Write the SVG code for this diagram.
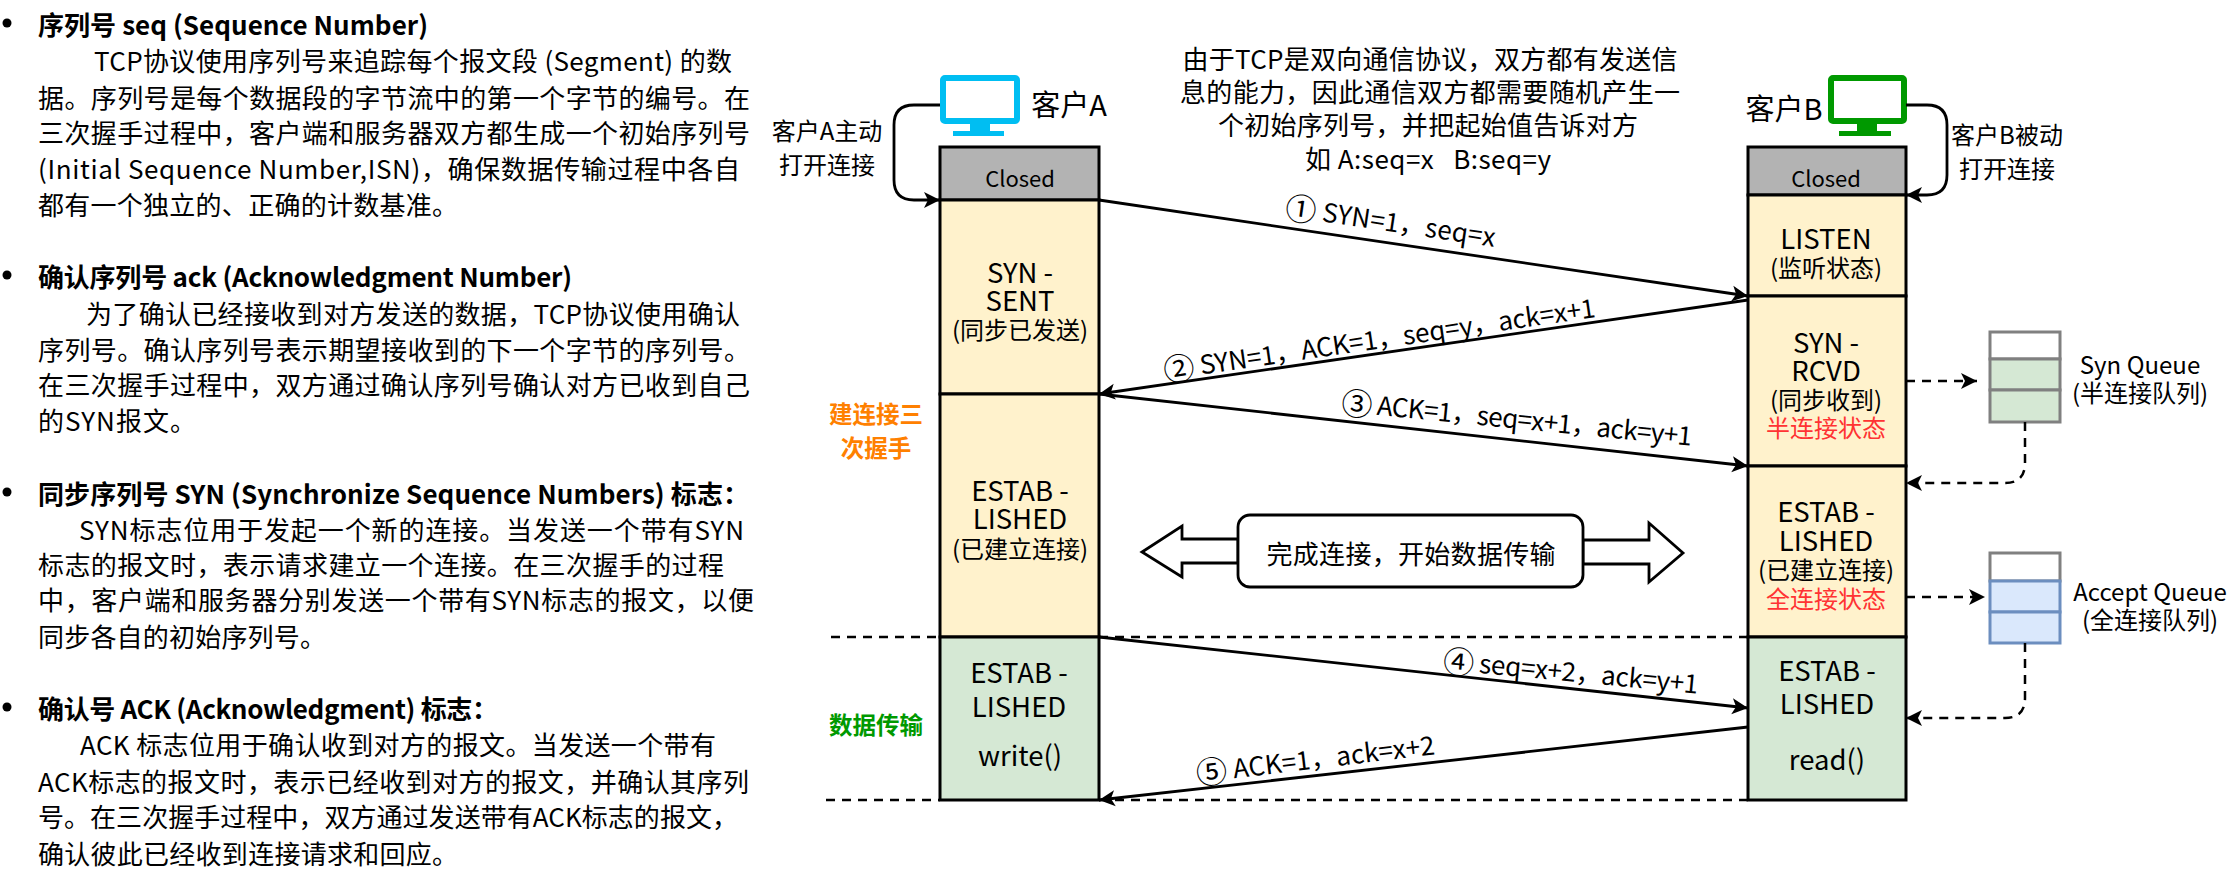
<svg xmlns="http://www.w3.org/2000/svg" width="2234" height="876" viewBox="0 0 2234 876">
<style>
text{font-family:"Noto Sans CJK SC","Noto Sans",sans-serif;fill:#000;dominant-baseline:central}
.l{font-size:26px}
.h{font-size:26px;font-weight:700}
.c{text-anchor:middle;font-size:24px}
.s{text-anchor:middle;font-size:22px}
.q{text-anchor:middle;font-size:24px}
.m{text-anchor:middle;font-size:27.5px}
.a{text-anchor:middle;font-size:26px}
.n{font-size:31px}
.t{text-anchor:middle;font-size:26px}
.o{fill:#ff8000;font-weight:700;text-anchor:middle;font-size:23.5px}
.g{fill:#009900;font-weight:700;text-anchor:middle;font-size:23.5px}
.r{fill:#ff3333}
.box{stroke:#000;stroke-width:3}
.cl{fill:#b3b3b3}.ye{fill:#fff2cc}.gr{fill:#d5e8d4}.bl{fill:#dae8fc}
.w{fill:#fff}
.qg{stroke:#808080;stroke-width:3}
.qb{stroke:#6c8ebf;stroke-width:3}
.ln{fill:none;stroke:#000;stroke-width:2.8}
.da{fill:none;stroke:#000;stroke-width:2.5;stroke-dasharray:9 7}
.blk{fill:#fff;stroke:#000;stroke-width:2.8}
</style>
<defs>
<marker id="arr" markerUnits="userSpaceOnUse" markerWidth="17" markerHeight="18" refX="16" refY="9" orient="auto"><path d="M0,1 L16,9 L0,17 L4,9Z" fill="#000"/></marker>
</defs>
<rect width="2234" height="876" fill="#fff"/>

<g id="left-text">
<circle cx="7" cy="23" r="4.5"/><circle cx="7" cy="275" r="4.5"/><circle cx="7" cy="492" r="4.5"/><circle cx="7" cy="707" r="4.5"/>
<text class="h" x="38" y="23" textLength="390">序列号 seq (Sequence Number)</text>
<text class="l" x="94" y="59" textLength="638">TCP协议使用序列号来追踪每个报文段 (Segment) 的数</text>
<text class="l" x="38" y="96" textLength="712">据。序列号是每个数据段的字节流中的第一个字节的编号。在</text>
<text class="l" x="38" y="131" textLength="712">三次握手过程中，客户端和服务器双方都生成一个初始序列号</text>
<text class="l" x="38" y="167" textLength="702">(Initial Sequence Number,ISN)，确保数据传输过程中各自</text>
<text class="l" x="38" y="203" textLength="420">都有一个独立的、正确的计数基准。</text>
<text class="h" x="38" y="275" textLength="534">确认序列号 ack (Acknowledgment Number)</text>
<text class="l" x="86" y="312" textLength="654">为了确认已经接收到对方发送的数据，TCP协议使用确认</text>
<text class="l" x="38" y="348" textLength="712">序列号。确认序列号表示期望接收到的下一个字节的序列号。</text>
<text class="l" x="38" y="383" textLength="712">在三次握手过程中，双方通过确认序列号确认对方已收到自己</text>
<text class="l" x="38" y="419" textLength="158">的SYN报文。</text>
<text class="h" x="38" y="492" textLength="711">同步序列号 SYN (Synchronize Sequence Numbers) 标志：</text>
<text class="l" x="79" y="528" textLength="665">SYN标志位用于发起一个新的连接。当发送一个带有SYN</text>
<text class="l" x="38" y="563" textLength="686">标志的报文时，表示请求建立一个连接。在三次握手的过程</text>
<text class="l" x="38" y="598" textLength="716">中，客户端和服务器分别发送一个带有SYN标志的报文，以便</text>
<text class="l" x="38" y="635" textLength="288">同步各自的初始序列号。</text>
<text class="h" x="38" y="707" textLength="460">确认号 ACK (Acknowledgment) 标志：</text>
<text class="l" x="80" y="743" textLength="636">ACK 标志位用于确认收到对方的报文。当发送一个带有</text>
<text class="l" x="38" y="780" textLength="711">ACK标志的报文时，表示已经收到对方的报文，并确认其序列</text>
<text class="l" x="38" y="815" textLength="700">号。在三次握手过程中，双方通过发送带有ACK标志的报文，</text>
<text class="l" x="38" y="852" textLength="420">确认彼此已经收到连接请求和回应。</text>
</g>

<g id="note">
<text class="t" x="1430" y="57" textLength="495">由于TCP是双向通信协议，双方都有发送信</text>
<text class="t" x="1430" y="90" textLength="500">息的能力，因此通信双方都需要随机产生一</text>
<text class="t" x="1428" y="123" textLength="420">个初始序列号，并把起始值告诉对方</text>
<text class="t" x="1428" y="157" textLength="246">如 A:seq=x &#160; B:seq=y</text>
</g>

<g id="client-a">
<rect x="943" y="78" width="74" height="43" rx="2" fill="#fff" stroke="#00bef2" stroke-width="6"/>
<path d="M970,123h20v8h14v5h-51v-5h17z" fill="#00bef2"/>
<text x="1069" y="103" text-anchor="middle" font-size="29">客户A</text>
</g>
<g id="client-b">
<rect x="1831" y="78" width="73" height="43" rx="2" fill="#fff" stroke="#009900" stroke-width="6"/>
<path d="M1857,123h20v8h14v5h-52v-5h18z" fill="#009900"/>
<text x="1784" y="107" text-anchor="middle" font-size="29">客户B</text>
</g>
<g id="label-a-open">
<text class="c" x="827" y="129">客户A主动</text>
<text class="c" x="827" y="163">打开连接</text>
</g>
<g id="label-b-open">
<text class="c" x="2007" y="133">客户B被动</text>
<text class="c" x="2007" y="167">打开连接</text>
</g>

<g id="column-a">
<rect class="box cl" x="940" y="147" width="159" height="53"/>
<rect class="box ye" x="940" y="200" width="159" height="194"/>
<rect class="box ye" x="940" y="394" width="159" height="243"/>
<rect class="box gr" x="940" y="637" width="159" height="163"/>
<text class="s" x="1020" y="177">Closed</text>
<text class="m" x="1020" y="271">SYN -</text>
<text class="m" x="1020" y="299">SENT</text>
<text class="c" x="1020" y="328">(同步已发送)</text>
<text class="m" x="1020" y="489">ESTAB -</text>
<text class="m" x="1020" y="517">LISHED</text>
<text class="c" x="1020" y="547">(已建立连接)</text>
<text class="m" x="1019" y="671">ESTAB -</text>
<text class="m" x="1019" y="705">LISHED</text>
<text class="m" x="1020" y="754">write()</text>
</g>

<g id="column-b">
<rect class="box cl" x="1748" y="147" width="158" height="48"/>
<rect class="box ye" x="1748" y="195" width="158" height="101"/>
<rect class="box ye" x="1748" y="296" width="158" height="170"/>
<rect class="box ye" x="1748" y="466" width="158" height="171"/>
<rect class="box gr" x="1748" y="637" width="158" height="163"/>
<text class="s" x="1826" y="177">Closed</text>
<text class="m" x="1826" y="237">LISTEN</text>
<text class="c" x="1826" y="266">(监听状态)</text>
<text class="m" x="1826" y="341">SYN -</text>
<text class="m" x="1826" y="369">RCVD</text>
<text class="c" x="1826" y="398">(同步收到)</text>
<text class="c r" x="1826" y="426">半连接状态</text>
<text class="m" x="1826" y="510">ESTAB -</text>
<text class="m" x="1826" y="539">LISHED</text>
<text class="c" x="1826" y="568">(已建立连接)</text>
<text class="c r" x="1826" y="597">全连接状态</text>
<text class="m" x="1827" y="669">ESTAB -</text>
<text class="m" x="1827" y="702">LISHED</text>
<text class="m" x="1827" y="758">read()</text>
</g>

<g id="phase-labels">
<text class="o" x="876" y="413">建连接三</text>
<text class="o" x="876" y="447">次握手</text>
<text class="g" x="876" y="724">数据传输</text>
</g>

<g id="syn-queue">
<rect class="w qg" x="1990" y="332" width="70" height="27"/>
<rect class="gr qg" x="1990" y="359" width="70" height="31"/>
<rect class="gr qg" x="1990" y="390" width="70" height="32"/>
<text class="q" x="2140" y="363">Syn Queue</text>
<text class="q" x="2140" y="391">(半连接队列)</text>
</g>
<g id="accept-queue">
<rect class="w qg" x="1990" y="553" width="70" height="28"/>
<rect class="bl qb" x="1990" y="581" width="70" height="31"/>
<rect class="bl qb" x="1990" y="612" width="70" height="31"/>
<text class="q" x="2150" y="590">Accept Queue</text>
<text class="q" x="2150" y="618">(全连接队列)</text>
</g>

<g id="transfer">
<path class="blk" d="M1238,539H1182V526L1142,552L1182,577V563H1238Z"/>
<path class="blk" d="M1583,540H1649V523L1683,553L1649,582V564H1583Z"/>
<rect class="blk" x="1238" y="515" width="345" height="72" rx="12"/>
<text class="t" x="1411" y="552" textLength="289">完成连接，开始数据传输</text>
</g>

<g id="connectors">
<path class="da" d="M831,637H940M1099,637H1748"/>
<path class="da" d="M826,800H940M1099,800H1748"/>
<path class="ln" d="M940,105H914Q894,105 894,125V180Q894,200 914,200H940" marker-end="url(#arr)"/>
<path class="ln" d="M1906,105H1927Q1947,105 1947,125V175Q1947,195 1927,195H1906" marker-end="url(#arr)"/>
<path class="ln" d="M1099,200L1748,296" marker-end="url(#arr)"/>
<path class="ln" d="M1748,300L1099,394" marker-end="url(#arr)"/>
<path class="ln" d="M1099,394L1748,466" marker-end="url(#arr)"/>
<path class="ln" d="M1099,637L1748,708" marker-end="url(#arr)"/>
<path class="ln" d="M1748,727L1099,800" marker-end="url(#arr)"/>
<path class="da" d="M1906,381H1977" marker-end="url(#arr)"/>
<path class="da" d="M2025,422V463Q2025,483 2005,483H1906" marker-end="url(#arr)"/>
<path class="da" d="M1906,597H1985" marker-end="url(#arr)"/>
<path class="da" d="M2025,643V698Q2025,718 2005,718H1906" marker-end="url(#arr)"/>
</g>

<g id="connector-labels">
<text class="a" transform="translate(1391,220) rotate(8.4)" textLength="212"><tspan class="n">①</tspan> SYN=1，seq=x</text>
<text class="a" transform="translate(1379,337) rotate(-8.3)" textLength="436"><tspan class="n">②</tspan> SYN=1，ACK=1，seq=y，ack=x+1</text>
<text class="a" transform="translate(1517,417) rotate(5.6)" textLength="352"><tspan class="n">③</tspan> ACK=1，seq=x+1，ack=y+1</text>
<text class="a" transform="translate(1571,670) rotate(5.4)" textLength="256"><tspan class="n">④</tspan> seq=x+2，ack=y+1</text>
<text class="a" transform="translate(1315,757) rotate(-6.8)" textLength="240"><tspan class="n">⑤</tspan> ACK=1，ack=x+2</text>
</g>
</svg>
